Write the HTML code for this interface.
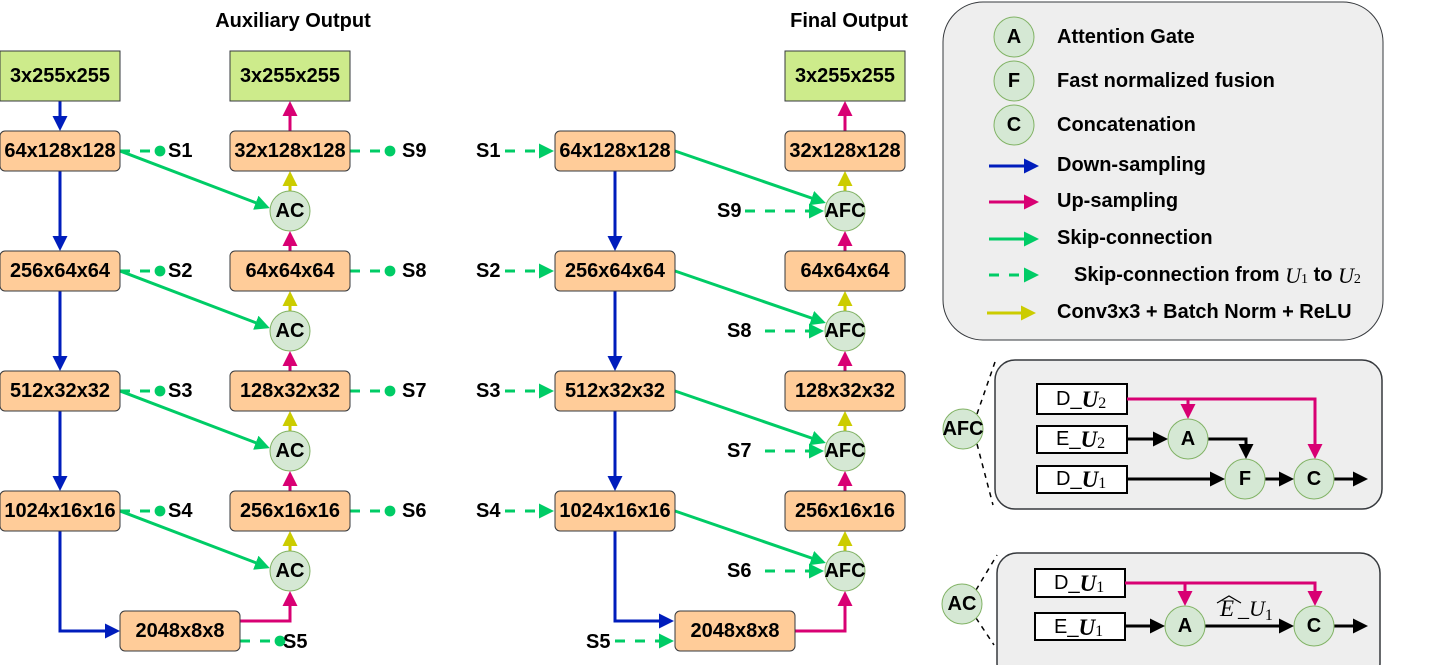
<!DOCTYPE html>
<html><head><meta charset="utf-8"><style>
html,body{margin:0;padding:0;background:#fff;}
svg{display:block;font-family:"Liberation Sans",Arial,sans-serif;}
.b{fill:#ffcc99;stroke:#36393d;stroke-width:1;}
.g{fill:#cdeb8b;stroke:#36393d;stroke-width:1;}
.c{fill:#d5e8d4;stroke:#82b366;stroke-width:1;}
.t{font-weight:bold;font-size:20px;text-anchor:middle;dominant-baseline:central;fill:#000;}
.l{font-weight:bold;font-size:20px;dominant-baseline:central;fill:#000;}
.bl{stroke:#001DBC;stroke-width:3;fill:none;}
.pk{stroke:#d80073;stroke-width:3;fill:none;}
.gr{stroke:#00cc66;stroke-width:3;fill:none;}
.gd{stroke:#00cc66;stroke-width:3;fill:none;stroke-dasharray:10 10;}
.yl{stroke:#cccc00;stroke-width:3;fill:none;}
.bk{stroke:#000;stroke-width:3;fill:none;}
.ib{fill:#fff;stroke:#000;stroke-width:2;}
.it{font-size:20px;dominant-baseline:central;fill:#000;}
</style></head><body>
<svg width="1443" height="665" viewBox="0 0 1443 665" xmlns="http://www.w3.org/2000/svg">
<defs>
<marker id="mb" markerWidth="5" markerHeight="5" refX="4" refY="2.5" orient="auto" markerUnits="strokeWidth"><path d="M0,0L5,2.5L0,5z" fill="#001DBC"/></marker>
<marker id="mp" markerWidth="5" markerHeight="5" refX="4" refY="2.5" orient="auto" markerUnits="strokeWidth"><path d="M0,0L5,2.5L0,5z" fill="#d80073"/></marker>
<marker id="mg" markerWidth="5" markerHeight="5" refX="4" refY="2.5" orient="auto" markerUnits="strokeWidth"><path d="M0,0L5,2.5L0,5z" fill="#00cc66"/></marker>
<marker id="my" markerWidth="5" markerHeight="5" refX="4" refY="2.5" orient="auto" markerUnits="strokeWidth"><path d="M0,0L5,2.5L0,5z" fill="#cccc00"/></marker>
<marker id="mk" markerWidth="5" markerHeight="5" refX="4" refY="2.5" orient="auto" markerUnits="strokeWidth"><path d="M0,0L5,2.5L0,5z" fill="#000"/></marker>
<marker id="md" markerWidth="4" markerHeight="4" refX="2" refY="2" orient="auto" markerUnits="strokeWidth"><circle cx="2" cy="2" r="1.8" fill="#00cc66"/></marker>
</defs>

<text class="t" x="293" y="21">Auxiliary Output</text>
<text class="t" x="849" y="21">Final Output</text>

<!-- ===== Auxiliary column ===== -->
<path class="bl" d="M60,101V128" marker-end="url(#mb)"/>
<path class="bl" d="M60,171V248" marker-end="url(#mb)"/>
<path class="bl" d="M60,291V368" marker-end="url(#mb)"/>
<path class="bl" d="M60,411V488" marker-end="url(#mb)"/>
<path class="bl" d="M60,531V631H117" marker-end="url(#mb)"/>
<path class="pk" d="M240,621H290V594" marker-end="url(#mp)"/>
<path class="pk" d="M290,491V474" marker-end="url(#mp)"/>
<path class="pk" d="M290,371V354" marker-end="url(#mp)"/>
<path class="pk" d="M290,251V234" marker-end="url(#mp)"/>
<path class="pk" d="M290,131V104" marker-end="url(#mp)"/>
<path class="yl" d="M290,191V174" marker-end="url(#my)"/>
<path class="yl" d="M290,311V294" marker-end="url(#my)"/>
<path class="yl" d="M290,431V414" marker-end="url(#my)"/>
<path class="yl" d="M290,551V534" marker-end="url(#my)"/>
<path class="gr" d="M120,151L267,207" marker-end="url(#mg)"/>
<path class="gr" d="M120,271L267,327" marker-end="url(#mg)"/>
<path class="gr" d="M120,391L267,447" marker-end="url(#mg)"/>
<path class="gr" d="M120,511L267,567" marker-end="url(#mg)"/>
<g class="gd">
<path d="M120,151H160" marker-end="url(#md)"/>
<path d="M120,271H160" marker-end="url(#md)"/>
<path d="M120,391H160" marker-end="url(#md)"/>
<path d="M120,511H160" marker-end="url(#md)"/>
<path d="M350,151H390" marker-end="url(#md)"/>
<path d="M350,271H390" marker-end="url(#md)"/>
<path d="M350,391H390" marker-end="url(#md)"/>
<path d="M350,511H390" marker-end="url(#md)"/>
<path d="M240,641H280" marker-end="url(#md)"/>
</g>
<text class="l" x="168" y="151">S1</text>
<text class="l" x="168" y="271">S2</text>
<text class="l" x="168" y="391">S3</text>
<text class="l" x="168" y="511">S4</text>
<text class="l" x="402" y="151">S9</text>
<text class="l" x="402" y="271">S8</text>
<text class="l" x="402" y="391">S7</text>
<text class="l" x="402" y="511">S6</text>
<text class="l" x="283" y="642">S5</text>

<rect class="g" x="0" y="51" width="120" height="50"/><text class="t" x="60" y="76">3x255x255</text>
<rect class="g" x="230" y="51" width="120" height="50"/><text class="t" x="290" y="76">3x255x255</text>
<rect class="b" x="0" y="131" width="120" height="40" rx="5"/><text class="t" x="60" y="151">64x128x128</text>
<rect class="b" x="0" y="251" width="120" height="40" rx="5"/><text class="t" x="60" y="271">256x64x64</text>
<rect class="b" x="0" y="371" width="120" height="40" rx="5"/><text class="t" x="60" y="391">512x32x32</text>
<rect class="b" x="0" y="491" width="120" height="40" rx="5"/><text class="t" x="60" y="511">1024x16x16</text>
<rect class="b" x="230" y="131" width="120" height="40" rx="5"/><text class="t" x="290" y="151">32x128x128</text>
<rect class="b" x="230" y="251" width="120" height="40" rx="5"/><text class="t" x="290" y="271">64x64x64</text>
<rect class="b" x="230" y="371" width="120" height="40" rx="5"/><text class="t" x="290" y="391">128x32x32</text>
<rect class="b" x="230" y="491" width="120" height="40" rx="5"/><text class="t" x="290" y="511">256x16x16</text>
<rect class="b" x="120" y="611" width="120" height="40" rx="5"/><text class="t" x="180" y="631">2048x8x8</text>
<circle class="c" cx="290" cy="211" r="20"/><text class="t" x="290" y="211">AC</text>
<circle class="c" cx="290" cy="331" r="20"/><text class="t" x="290" y="331">AC</text>
<circle class="c" cx="290" cy="451" r="20"/><text class="t" x="290" y="451">AC</text>
<circle class="c" cx="290" cy="571" r="20"/><text class="t" x="290" y="571">AC</text>

<!-- ===== Final column ===== -->
<path class="bl" d="M615,171V248" marker-end="url(#mb)"/>
<path class="bl" d="M615,291V368" marker-end="url(#mb)"/>
<path class="bl" d="M615,411V488" marker-end="url(#mb)"/>
<path class="bl" d="M615,531V621H671" marker-end="url(#mb)"/>
<path class="pk" d="M795,631H845V594" marker-end="url(#mp)"/>
<path class="pk" d="M845,491V474" marker-end="url(#mp)"/>
<path class="pk" d="M845,371V354" marker-end="url(#mp)"/>
<path class="pk" d="M845,251V234" marker-end="url(#mp)"/>
<path class="pk" d="M845,131V104" marker-end="url(#mp)"/>
<path class="yl" d="M845,191V174" marker-end="url(#my)"/>
<path class="yl" d="M845,311V294" marker-end="url(#my)"/>
<path class="yl" d="M845,431V414" marker-end="url(#my)"/>
<path class="yl" d="M845,551V534" marker-end="url(#my)"/>
<path class="gr" d="M675,151L823,202" marker-end="url(#mg)"/>
<path class="gr" d="M675,271L823,322" marker-end="url(#mg)"/>
<path class="gr" d="M675,391L823,442" marker-end="url(#mg)"/>
<path class="gr" d="M675,511L823,562" marker-end="url(#mg)"/>
<g class="gd">
<path d="M505,151H551" marker-end="url(#mg)"/>
<path d="M505,271H551" marker-end="url(#mg)"/>
<path d="M505,391H551" marker-end="url(#mg)"/>
<path d="M505,511H551" marker-end="url(#mg)"/>
<path d="M615,641H671" marker-end="url(#mg)"/>
<path d="M745,211H821" marker-end="url(#mg)"/>
<path d="M765,331H821" marker-end="url(#mg)"/>
<path d="M765,451H821" marker-end="url(#mg)"/>
<path d="M765,571H821" marker-end="url(#mg)"/>
</g>
<text class="l" x="476" y="151">S1</text>
<text class="l" x="476" y="271">S2</text>
<text class="l" x="476" y="391">S3</text>
<text class="l" x="476" y="511">S4</text>
<text class="l" x="586" y="642">S5</text>
<text class="l" x="717" y="211">S9</text>
<text class="l" x="727" y="331">S8</text>
<text class="l" x="727" y="451">S7</text>
<text class="l" x="727" y="571">S6</text>

<rect class="g" x="785" y="51" width="120" height="50"/><text class="t" x="845" y="76">3x255x255</text>
<rect class="b" x="555" y="131" width="120" height="40" rx="5"/><text class="t" x="615" y="151">64x128x128</text>
<rect class="b" x="555" y="251" width="120" height="40" rx="5"/><text class="t" x="615" y="271">256x64x64</text>
<rect class="b" x="555" y="371" width="120" height="40" rx="5"/><text class="t" x="615" y="391">512x32x32</text>
<rect class="b" x="555" y="491" width="120" height="40" rx="5"/><text class="t" x="615" y="511">1024x16x16</text>
<rect class="b" x="785" y="131" width="120" height="40" rx="5"/><text class="t" x="845" y="151">32x128x128</text>
<rect class="b" x="785" y="251" width="120" height="40" rx="5"/><text class="t" x="845" y="271">64x64x64</text>
<rect class="b" x="785" y="371" width="120" height="40" rx="5"/><text class="t" x="845" y="391">128x32x32</text>
<rect class="b" x="785" y="491" width="120" height="40" rx="5"/><text class="t" x="845" y="511">256x16x16</text>
<rect class="b" x="675" y="611" width="120" height="40" rx="5"/><text class="t" x="735" y="631">2048x8x8</text>
<circle class="c" cx="845" cy="211" r="20"/><text class="t" x="845" y="211">AFC</text>
<circle class="c" cx="845" cy="331" r="20"/><text class="t" x="845" y="331">AFC</text>
<circle class="c" cx="845" cy="451" r="20"/><text class="t" x="845" y="451">AFC</text>
<circle class="c" cx="845" cy="571" r="20"/><text class="t" x="845" y="571">AFC</text>

<!-- ===== Legend ===== -->
<rect x="943" y="2" width="440" height="338" rx="40" fill="#eeeeee" stroke="#36393d" stroke-width="1"/>
<circle class="c" cx="1014" cy="37" r="20"/><text class="t" x="1014" y="37">A</text>
<circle class="c" cx="1014" cy="81" r="20"/><text class="t" x="1014" y="81">F</text>
<circle class="c" cx="1014" cy="125" r="20"/><text class="t" x="1014" y="125">C</text>
<text class="l" x="1057" y="37">Attention Gate</text>
<text class="l" x="1057" y="81">Fast normalized fusion</text>
<text class="l" x="1057" y="125">Concatenation</text>
<path class="bl" d="M989,166H1036" marker-end="url(#mb)"/>
<path class="pk" d="M989,202H1036" marker-end="url(#mp)"/>
<path class="gr" d="M989,239H1036" marker-end="url(#mg)"/>
<path class="gd" d="M989,275H1036" marker-end="url(#mg)"/>
<path class="yl" d="M987,313H1033" marker-end="url(#my)"/>
<text class="l" x="1057" y="165">Down-sampling</text>
<text class="l" x="1057" y="201">Up-sampling</text>
<text class="l" x="1057" y="238">Skip-connection</text>
<text class="l" x="1074" y="275">Skip-connection from <tspan font-family="Liberation Serif,serif" font-style="italic" font-weight="normal" font-size="22">U</tspan><tspan font-family="Liberation Serif,serif" font-weight="normal" font-size="14" dy="4">1</tspan><tspan dy="-4"> to </tspan><tspan font-family="Liberation Serif,serif" font-style="italic" font-weight="normal" font-size="22">U</tspan><tspan font-family="Liberation Serif,serif" font-weight="normal" font-size="14" dy="4">2</tspan></text>
<text class="l" x="1057" y="312">Conv3x3 + Batch Norm + ReLU</text>

<!-- ===== AFC detail ===== -->
<rect x="995" y="360" width="387" height="149" rx="20" fill="#eeeeee" stroke="#36393d" stroke-width="1.5"/>
<path d="M977,414L995,362M977,444L993,505" stroke="#000" stroke-width="1.5" stroke-dasharray="5 5" fill="none"/>
<circle class="c" cx="963" cy="429" r="20"/><text class="t" x="963" y="429">AFC</text>
<rect class="ib" x="1037" y="384" width="90" height="30"/>
<rect class="ib" x="1037" y="426" width="90" height="27"/>
<rect class="ib" x="1037" y="466" width="90" height="27"/>
<text class="it" x="1056" y="399">D_<tspan font-family="Liberation Serif,serif" font-style="italic" font-weight="bold" font-size="23">U</tspan><tspan font-family="Liberation Serif,serif" font-size="16" dy="4">2</tspan></text>
<text class="it" x="1056" y="439">E_<tspan font-family="Liberation Serif,serif" font-style="italic" font-weight="bold" font-size="23">U</tspan><tspan font-family="Liberation Serif,serif" font-size="16" dy="4">2</tspan></text>
<text class="it" x="1056" y="479">D_<tspan font-family="Liberation Serif,serif" font-style="italic" font-weight="bold" font-size="23">U</tspan><tspan font-family="Liberation Serif,serif" font-size="16" dy="4">1</tspan></text>
<path class="pk" d="M1127,399H1315V456" marker-end="url(#mp)"/>
<path class="pk" d="M1188,399V416" marker-end="url(#mp)"/>
<path class="bk" d="M1127,439H1165" marker-end="url(#mk)"/>
<path class="bk" d="M1208,439H1246V456" marker-end="url(#mk)"/>
<path class="bk" d="M1127,479H1222" marker-end="url(#mk)"/>
<path class="bk" d="M1265,479H1291" marker-end="url(#mk)"/>
<path class="bk" d="M1334,479H1365" marker-end="url(#mk)"/>
<circle class="c" cx="1188" cy="439" r="20"/><text class="t" x="1188" y="439">A</text>
<circle class="c" cx="1245" cy="479" r="20"/><text class="t" x="1245" y="479">F</text>
<circle class="c" cx="1314" cy="479" r="20"/><text class="t" x="1314" y="479">C</text>

<!-- ===== AC detail ===== -->
<rect x="997" y="553" width="383" height="130" rx="20" fill="#eeeeee" stroke="#36393d" stroke-width="1.5"/>
<path d="M976,590L997,555M976,618L994,645" stroke="#000" stroke-width="1.5" stroke-dasharray="5 5" fill="none"/>
<circle class="c" cx="962" cy="604" r="20"/><text class="t" x="962" y="604">AC</text>
<rect class="ib" x="1035" y="569" width="90" height="28"/>
<rect class="ib" x="1035" y="613" width="90" height="27"/>
<text class="it" x="1054" y="583">D_<tspan font-family="Liberation Serif,serif" font-style="italic" font-weight="bold" font-size="23">U</tspan><tspan font-family="Liberation Serif,serif" font-size="16" dy="4">1</tspan></text>
<text class="it" x="1054" y="627">E_<tspan font-family="Liberation Serif,serif" font-style="italic" font-weight="bold" font-size="23">U</tspan><tspan font-family="Liberation Serif,serif" font-size="16" dy="4">1</tspan></text>
<path class="pk" d="M1125,583H1315V603" marker-end="url(#mp)"/>
<path class="pk" d="M1185,583V603" marker-end="url(#mp)"/>
<path class="bk" d="M1125,626H1162" marker-end="url(#mk)"/>
<path class="bk" d="M1205,626H1291" marker-end="url(#mk)"/>
<path class="bk" d="M1334,626H1365" marker-end="url(#mk)"/>
<text x="1220" y="616" font-family="Liberation Serif,serif" font-style="italic" font-size="23">E</text>
<path d="M1217,603L1229,596L1241,603" stroke="#000" stroke-width="1.2" fill="none"/>
<text x="1238" y="616" font-family="Liberation Serif,serif" font-size="22">_<tspan font-style="italic">U</tspan><tspan font-size="16" dy="4">1</tspan></text>
<circle class="c" cx="1185" cy="626" r="20"/><text class="t" x="1185" y="626">A</text>
<circle class="c" cx="1314" cy="626" r="20"/><text class="t" x="1314" y="626">C</text>
</svg>
</body></html>
